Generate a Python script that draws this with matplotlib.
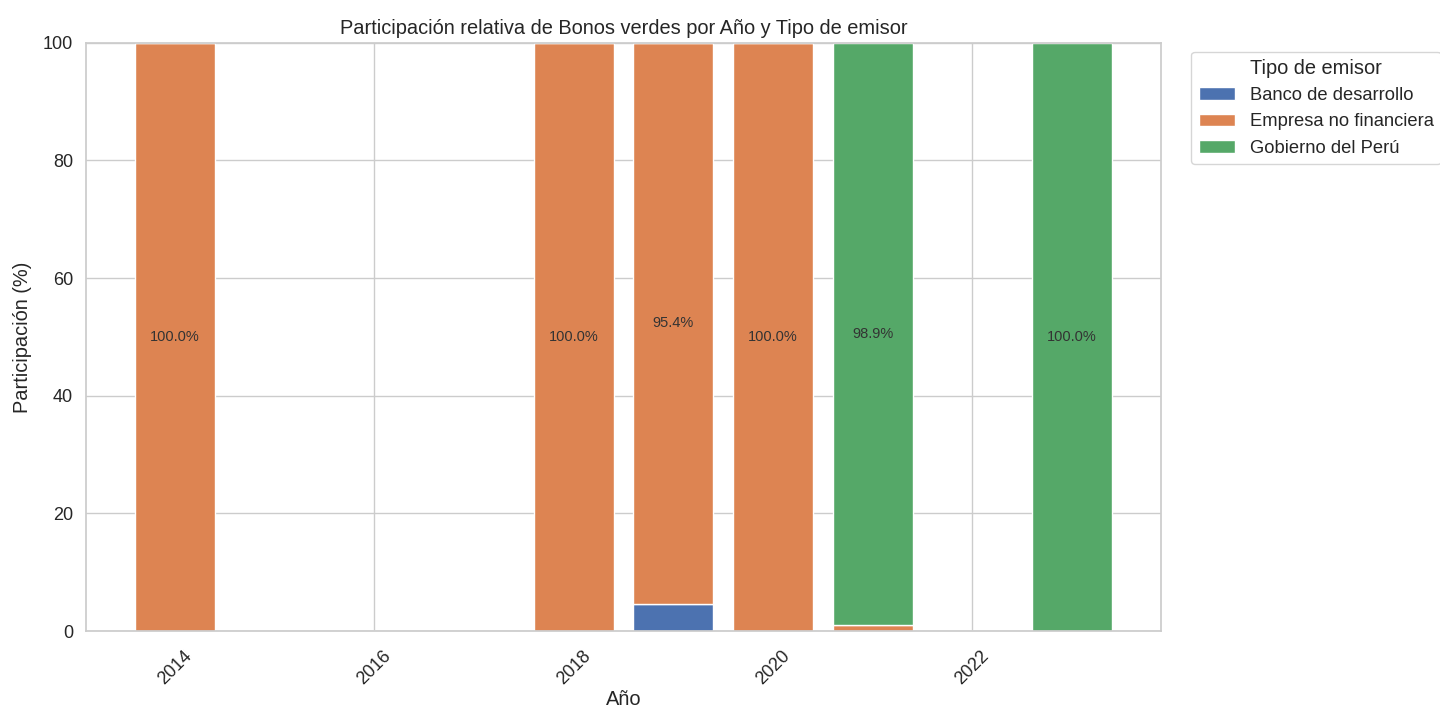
import numpy as np
import matplotlib
matplotlib.use("Agg")
import matplotlib.pyplot as plt
import seaborn as sns

sns.set_theme(style="whitegrid")
plt.rcParams['font.family'] = ['Liberation Sans', 'DejaVu Sans']

##### Datos ####
anios = [2014, 2015, 2016, 2017, 2018, 2019, 2020, 2021, 2022, 2023]
emisores = ['Banco de desarrollo', 'Empresa no financiera', 'Gobierno del Perú']
banco = [0, 0, 0, 0, 0, 4.6, 0, 0, 0, 0]
empresa = [100.0, 0, 0, 0, 100.0, 95.4, 100.0, 1.1, 0, 0]
gobierno = [0, 0, 0, 0, 0, 0, 0, 98.9, 0, 100.0]
colores = ['#4C72B0', '#DD8452', '#55A868']

fig, ax = plt.subplots(figsize=(14.4, 7.11), dpi=100)
fig.subplots_adjust(left=0.06, right=0.806, top=0.94, bottom=0.1125)

base = np.zeros(len(anios))
for nombre, valores, color in zip(emisores, [banco, empresa, gobierno], colores):
    valores = np.array(valores)
    barras = ax.bar(anios, valores, bottom=base, width=0.8, color=color,
                    edgecolor='white', linewidth=1, label=nombre)
    for b, v, y0 in zip(barras, valores, base):
        if v > 5:
            ax.text(b.get_x() + b.get_width() / 2, y0 + v / 2, f'{v:.1f}%',
                    ha='center', va='center', fontsize=10.5, color='#333333')
    base = base + valores

ax.set_ylim(0, 100)
ax.set_title('Participación relativa de Bonos verdes por Año y Tipo de emisor', fontsize=14.4, pad=6)
ax.set_xlabel('Año', fontsize=14.4, labelpad=1)
ax.set_ylabel('Participación (%)', fontsize=14.4, labelpad=8)
ax.tick_params(axis='both', labelsize=13)
ax.tick_params(axis='x', pad=6)
plt.setp(ax.get_xticklabels(), rotation=45)
ax.legend(title='Tipo de emisor', bbox_to_anchor=(1.02, 1), loc='upper left',
          fontsize=13.2, title_fontsize=14.4)

plt.savefig('out.png')
